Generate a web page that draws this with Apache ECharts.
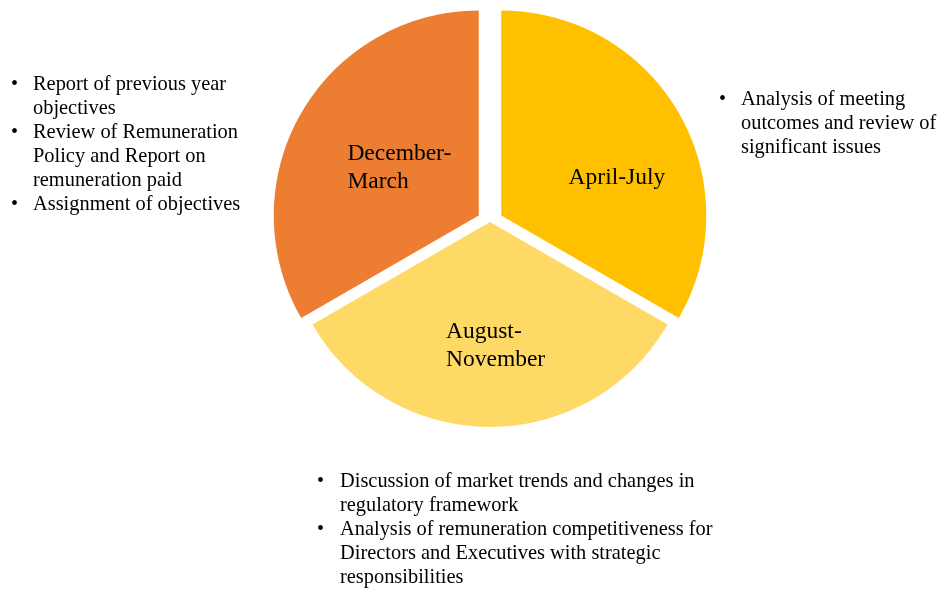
<!DOCTYPE html>
<html>
<head>
<meta charset="utf-8">
<script src="https://cdn.jsdelivr.net/npm/echarts@6/dist/echarts.min.js"></script>
<style>
  html, body { margin: 0; padding: 0; background: #fff; }
  #chart { width: 940px; height: 589px; }
</style>
</head>
<body>
<div id="chart"></div>
<script>
// periods of the year, each one a third of the cycle (4 months)
const periods = ['April-July', 'August-November', 'December-March']
const months = [4, 4, 4]
const sliceLabels = ['April-July', 'August-\nNovember', 'December-\nMarch']
const colors = ['#FFC000', '#FFD966', '#ED7D31']
const exploded = [true, false, true]

// bullet notes, already broken into lines as in the picture
const notesDecMar = [
  ['Report of previous year', 'objectives'],
  ['Review of Remuneration', 'Policy and Report on', 'remuneration paid'],
  ['Assignment of objectives'],
]
const notesAprJul = [
  ['Analysis of meeting', 'outcomes and review of', 'significant issues'],
]
const notesAugNov = [
  ['Discussion of market trends and changes in', 'regulatory framework'],
  ['Analysis of remuneration competitiveness for', 'Directors and Executives with strategic', 'responsibilities'],
]

const FONT = '"Liberation Serif", "Times New Roman", serif'
const LINE = 24

function bulletBlock(items, bulletX, textX, top) {
  let els = []
  let y = top
  items.forEach(lines => {
    els.push({
      type: 'text', x: bulletX, y: y,
      style: { text: '•', fontFamily: FONT, fontSize: 20, lineHeight: LINE, fill: '#000', verticalAlign: 'top' },
    })
    els.push({
      type: 'text', x: textX, y: y,
      style: { text: lines.join('\n'), fontFamily: FONT, fontSize: 20.4, lineHeight: LINE, fill: '#000', verticalAlign: 'top' },
    })
    y += lines.length * LINE
  })
  return els
}

// label nudges (left aligned, relative to the default inside spot)
const labelShift = [[-24, 15], [-44, 18], [-40, 5]]

const chart = echarts.init(document.getElementById('chart'))

chart.setOption({
  animation: false,
  backgroundColor: '#fff',
  series: [
    {
      type: 'pie',
      center: [490, 222],
      radius: [0, 205],
      startAngle: 90,
      clockwise: true,
      selectedMode: 'multiple',
      selectedOffset: 13,
      emphasis: { disabled: true },
      select: { itemStyle: { borderWidth: 0 } },
      itemStyle: { borderWidth: 0 },
      label: {
        show: true,
        position: 'inside',
        fontFamily: FONT,
        fontSize: 23.5,
        lineHeight: 28,
        color: '#000',
        formatter: p => sliceLabels[p.dataIndex],
      },
      labelLine: { show: false },
      labelLayout: p => ({
        align: 'left',
        dx: labelShift[p.dataIndex][0],
        dy: labelShift[p.dataIndex][1],
      }),
      data: periods.map((name, i) => ({
        name: name,
        value: months[i],
        selected: exploded[i],
        itemStyle: { color: colors[i] },
        select: { itemStyle: { color: colors[i] } },
      })),
    },
  ],
  graphic: [].concat(
    bulletBlock(notesDecMar, 11, 33, 73),
    bulletBlock(notesAprJul, 719, 741, 88),
    bulletBlock(notesAugNov, 317, 340, 470)
  ),
})
</script>
</body>
</html>
